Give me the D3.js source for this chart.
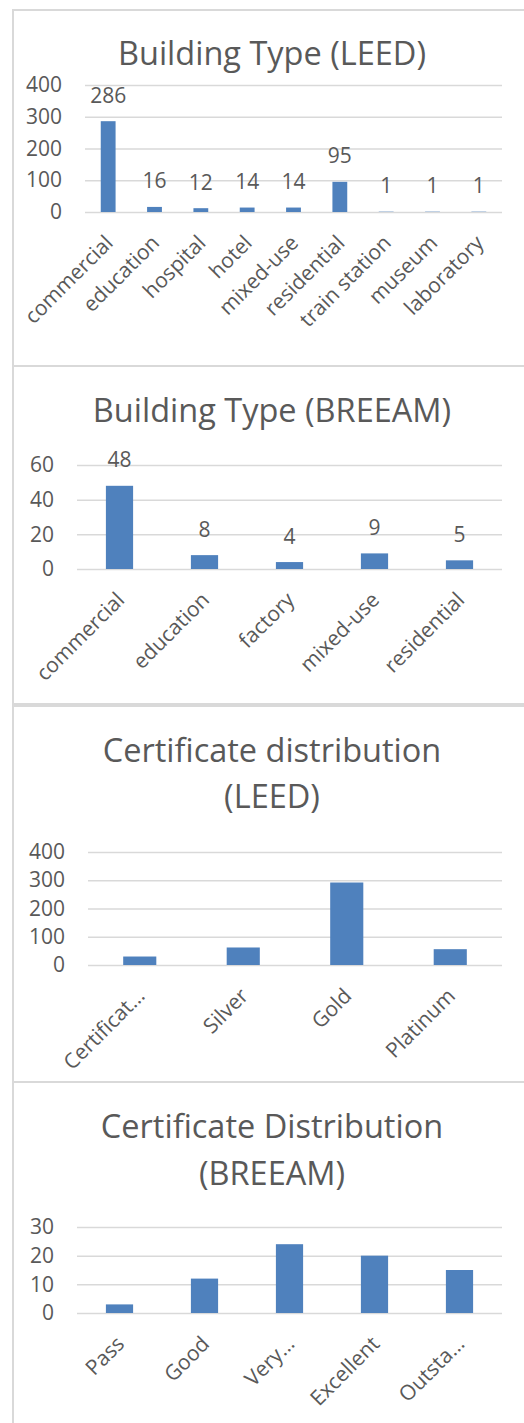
<!DOCTYPE html>
<html>
<head>
<meta charset="utf-8">
<script src="https://cdn.jsdelivr.net/npm/d3@7"></script>
<style>
  body { margin: 0; background: #fff; }
  text { font-family: "Open Sans", "Noto Sans", sans-serif; fill: #595959; }
</style>
</head>
<body>
<div id="chart"></div>
<script>
// data
var leedTypes = ["commercial", "education", "hospital", "hotel", "mixed-use", "residential", "train station", "museum", "laboratory"];
var leedTypeCounts = [286, 16, 12, 14, 14, 95, 1, 1, 1];
var leedTypeTicks = [0, 100, 200, 300, 400];

var breeamTypes = ["commercial", "education", "factory", "mixed-use", "residential"];
var breeamTypeCounts = [48, 8, 4, 9, 5];
var breeamTypeTicks = [0, 20, 40, 60];

var leedLevels = ["Certificat\u2026", "Silver", "Gold", "Platinum"];
var leedLevelCounts = [30, 62, 292, 56];
var leedLevelTicks = [0, 100, 200, 300, 400];

var breeamLevels = ["Pass", "Good", "Very\u2026", "Excellent", "Outsta\u2026"];
var breeamLevelCounts = [3, 12, 24, 20, 15];
var breeamLevelTicks = [0, 10, 20, 30];

var width = 524, height = 1423;
var plotRight = 502;

// one entry per chart box, layout only
var panels = [
  {title: ["Building Type (LEED)"], cats: leedTypes, vals: leedTypeCounts, ticks: leedTypeTicks,
   top: 10, bottom: 366, titleY: [65], x0: 85, yTop: 85, yZero: 212, labels: true},
  {title: ["Building Type (BREEAM)"], cats: breeamTypes, vals: breeamTypeCounts, ticks: breeamTypeTicks,
   top: 366, bottom: 704, titleY: [422], x0: 77, yTop: 465, yZero: 569, labels: true},
  {title: ["Certificate distribution", "(LEED)"], cats: leedLevels, vals: leedLevelCounts, ticks: leedLevelTicks,
   top: 706, bottom: 1082, titleY: [762, 808], x0: 88, yTop: 852, yZero: 965, labels: false},
  {title: ["Certificate Distribution", "(BREEAM)"], cats: breeamLevels, vals: breeamLevelCounts, ticks: breeamLevelTicks,
   top: 1082, bottom: 1440, titleY: [1138, 1185], x0: 77, yTop: 1227, yZero: 1313, labels: false}
];

var svg = d3.select("#chart")
  .append("svg")
  .attr("width", width)
  .attr("height", height);

panels.forEach(function(p) {
  var g = svg.append("g");

  // chart frame
  g.append("rect")
    .attr("x", 13).attr("y", p.top)
    .attr("width", 600).attr("height", p.bottom - p.top)
    .attr("fill", "#fff")
    .attr("stroke", "#d9d9d9")
    .attr("stroke-width", 2);

  // title
  p.title.forEach(function(t, i) {
    g.append("text")
      .attr("x", 272).attr("y", p.titleY[i])
      .attr("text-anchor", "middle")
      .attr("font-size", "32.5px")
      .text(t);
  });

  var y = d3.scaleLinear()
    .domain([0, d3.max(p.ticks)])
    .range([p.yZero, p.yTop]);

  var x = d3.scaleBand()
    .domain(p.cats)
    .range([p.x0, plotRight])
    .paddingInner(0.68)
    .paddingOuter(0.34);

  // gridlines + y labels
  var yAxis = g.append("g")
    .attr("transform", "translate(" + p.x0 + ",0)")
    .call(d3.axisLeft(y).tickValues(p.ticks).tickSize(-(plotRight - p.x0)).tickPadding(23));
  yAxis.select(".domain").remove();
  yAxis.selectAll("line").attr("stroke", "#d9d9d9").attr("stroke-width", 1.5);
  yAxis.selectAll("text").attr("font-size", "21px").attr("fill", "#595959");

  // x labels, rotated
  var xAxis = g.append("g")
    .attr("transform", "translate(0," + p.yZero + ")")
    .call(d3.axisBottom(x).tickSize(0));
  xAxis.select(".domain").remove();
  xAxis.selectAll("text")
    .attr("font-size", "21px")
    .attr("fill", "#595959")
    .attr("x", 0).attr("y", 0)
    .attr("dy", "0.35em")
    .attr("text-anchor", "end")
    .attr("transform", "translate(1,27) rotate(-45)");

  // bars
  var data = p.cats.map(function(c, i) { return {cat: c, val: p.vals[i]}; });
  g.selectAll(".bar")
    .data(data)
    .enter()
    .append("rect")
    .attr("class", "bar")
    .attr("x", function(d) { return x(d.cat); })
    .attr("y", function(d) { return y(d.val); })
    .attr("width", x.bandwidth())
    .attr("height", function(d) { return p.yZero - y(d.val); })
    .attr("fill", "#4f81bd");

  if (p.labels) {
    g.selectAll(".val")
      .data(data)
      .enter()
      .append("text")
      .attr("class", "val")
      .attr("x", function(d) { return x(d.cat) + x.bandwidth() / 2; })
      .attr("y", function(d) { return y(d.val) - 18.5; })
      .attr("text-anchor", "middle")
      .attr("font-size", "21px")
      .text(function(d) { return d.val; });
  }
});
</script>
</body>
</html>
